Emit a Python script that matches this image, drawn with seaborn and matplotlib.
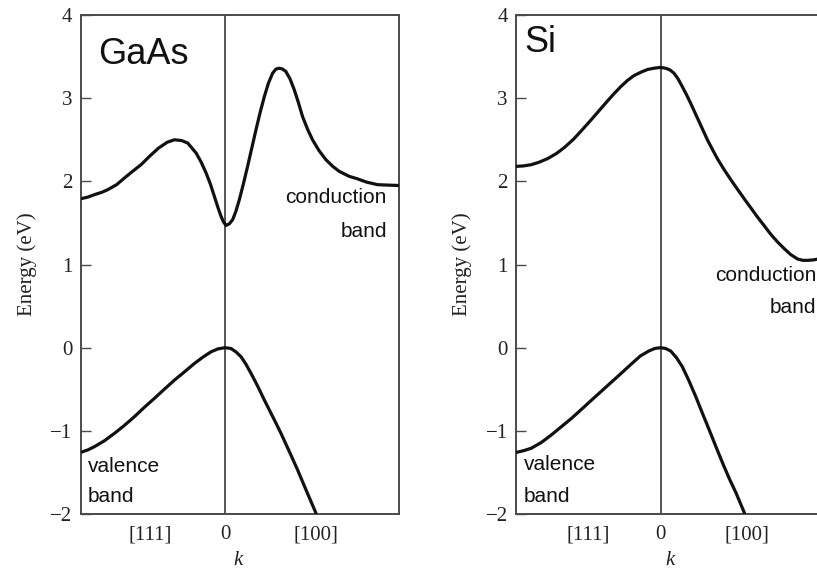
import matplotlib
matplotlib.use("Agg")
import matplotlib.pyplot as plt
import seaborn as sns
import pandas as pd

# ---------------- data ----------------
panels = ["GaAs", "Si"]
energy_ticks = [-2, -1, 0, 1, 2, 3, 4]
k_tick_labels = ["[111]", "0", "[100]"]
gaas_k_ticks = [-0.52, 0.0, 0.63]
si_k_ticks = [-0.50, 0.0, 0.60]

gaas_cond_k = [-1.0, -0.95, -0.903, -0.85, -0.811, -0.75, -0.696, -0.64, -0.581, -0.523,
               -0.46, -0.40, -0.350, -0.30, -0.258, -0.200, -0.165, -0.131, -0.10, -0.074,
               -0.05, -0.028, -0.01, 0.007, 0.03, 0.053, 0.075, 0.099, 0.127, 0.156,
               0.185, 0.214, 0.243, 0.272, 0.30, 0.329, 0.352, 0.375, 0.398, 0.421,
               0.45, 0.479, 0.507, 0.536, 0.57, 0.605, 0.65, 0.698, 0.745, 0.790,
               0.859, 0.916, 0.98, 1.055, 1.12, 1.2]
gaas_cond_E = [1.79, 1.81, 1.84, 1.87, 1.90, 1.96, 2.04, 2.12, 2.20, 2.30,
               2.40, 2.47, 2.50, 2.49, 2.46, 2.34, 2.23, 2.10, 1.96, 1.82,
               1.69, 1.58, 1.51, 1.47, 1.49, 1.54, 1.64, 1.78, 1.97, 2.18,
               2.40, 2.62, 2.83, 3.02, 3.18, 3.30, 3.35, 3.36, 3.35, 3.32,
               3.23, 3.10, 2.95, 2.78, 2.63, 2.50, 2.37, 2.26, 2.18, 2.12,
               2.06, 2.03, 1.99, 1.96, 1.955, 1.95]

gaas_val_k = [-1.0, -0.95, -0.903, -0.835, -0.765, -0.70, -0.627, -0.56, -0.489, -0.42,
              -0.350, -0.28, -0.212, -0.15, -0.097, -0.05, 0.0, 0.041, 0.075, 0.111,
              0.145, 0.180, 0.225, 0.272, 0.33, 0.387, 0.445, 0.502, 0.565, 0.629]
gaas_val_E = [-1.26, -1.23, -1.19, -1.12, -1.03, -0.94, -0.83, -0.72, -0.61, -0.50,
              -0.39, -0.29, -0.19, -0.11, -0.05, -0.015, 0.0, -0.01, -0.05, -0.11,
              -0.20, -0.31, -0.46, -0.63, -0.83, -1.03, -1.25, -1.47, -1.73, -1.99]

si_cond_k = [-1.0, -0.95, -0.895, -0.84, -0.779, -0.72, -0.663, -0.60, -0.547, -0.49,
             -0.430, -0.37, -0.324, -0.28, -0.231, -0.185, -0.139, -0.09, -0.046, 0.0,
             0.035, 0.065, 0.093, 0.122, 0.150, 0.18, 0.208, 0.237, 0.266, 0.295,
             0.324, 0.36, 0.394, 0.44, 0.486, 0.53, 0.579, 0.625, 0.671, 0.72,
             0.764, 0.81, 0.856, 0.90, 0.949, 0.985, 1.019, 1.055, 1.088]
si_cond_E = [2.18, 2.185, 2.20, 2.23, 2.275, 2.335, 2.41, 2.51, 2.61, 2.72,
             2.84, 2.96, 3.05, 3.13, 3.21, 3.27, 3.31, 3.345, 3.36, 3.37,
             3.36, 3.34, 3.30, 3.23, 3.14, 3.04, 2.94, 2.83, 2.72, 2.61,
             2.50, 2.38, 2.27, 2.14, 2.02, 1.91, 1.79, 1.68, 1.57, 1.46,
             1.36, 1.27, 1.19, 1.12, 1.065, 1.05, 1.05, 1.055, 1.065]

si_val_k = [-1.0, -0.95, -0.895, -0.825, -0.756, -0.686, -0.616, -0.546, -0.477, -0.407,
            -0.337, -0.267, -0.198, -0.14, -0.081, -0.04, 0.0, 0.035, 0.070, 0.11,
            0.151, 0.197, 0.244, 0.29, 0.337, 0.383, 0.430, 0.477, 0.523, 0.552, 0.581]
si_val_E = [-1.26, -1.24, -1.21, -1.14, -1.05, -0.95, -0.85, -0.74, -0.63, -0.52,
            -0.41, -0.30, -0.19, -0.10, -0.04, -0.01, 0.0, -0.01, -0.04, -0.12,
            -0.23, -0.40, -0.59, -0.79, -0.99, -1.19, -1.39, -1.58, -1.75, -1.87, -1.99]

# ---------------- styling ----------------
sns.set_theme(style="white")
plt.rcParams["font.family"] = ["Liberation Serif", "DejaVu Serif"]
plt.rcParams["axes.unicode_minus"] = True

fig = plt.figure(figsize=(8.17, 5.74), dpi=100)
W, H = 817.0, 574.0
ax1 = fig.add_axes([80.5 / W, 60 / H, 318 / W, 499 / H])
ax2 = fig.add_axes([516 / W, 60 / H, 318 / W, 499 / H])

spine_col = "#4a4a4a"
curve_col = "#111111"
text_col = "#222222"

configs = [
    (ax1, gaas_cond_k, gaas_cond_E, gaas_val_k, gaas_val_E, gaas_k_ticks),
    (ax2, si_cond_k, si_cond_E, si_val_k, si_val_E, si_k_ticks),
]

for ax, ck, cE, vk, vE, kt in configs:
    dfc = pd.DataFrame({"k": ck, "E": cE})
    dfv = pd.DataFrame({"k": vk, "E": vE})
    ax.axvline(0, color="#555555", lw=1.4, zorder=1)
    for df in (dfc, dfv):
        sns.lineplot(data=df, x="k", y="E", ax=ax, color=curve_col, lw=2.3,
                     sort=False, estimator=None, zorder=3,
                     solid_joinstyle="round", solid_capstyle="round")
    ax.set_xlim(-1.0, 1.2)
    ax.set_ylim(-2, 4)
    ax.set_yticks(energy_ticks)
    ax.set_yticklabels([str(v).replace("-", "\u2212") for v in energy_ticks])
    ax.set_xticks(kt)
    ax.set_xticklabels(k_tick_labels)
    ax.tick_params(axis="y", direction="in", length=7, width=1.0, color=spine_col,
                   labelsize=15, pad=6, left=True, labelcolor=text_col)
    ax.tick_params(axis="x", length=0, labelsize=15, pad=8, labelcolor=text_col)
    for s in ax.spines.values():
        s.set_color(spine_col)
        s.set_linewidth(1.4)
        s.set_visible(True)
    ax.set_ylabel("Energy (eV)", fontsize=15, color=text_col)
    ax.yaxis.set_label_coords(-0.138, 0.5)
    ax.set_xlabel("k", fontsize=15, style="italic", color=text_col)
    ax.grid(False)
    ax.set_facecolor("white")

ax1.xaxis.set_label_coords(0.495, -0.075)
ax2.xaxis.set_label_coords(0.484, -0.075)

sans = ["Liberation Sans", "DejaVu Sans"]
ax1.text(0.055, 0.902, "GaAs", transform=ax1.transAxes, fontsize=26,
         family=sans, va="baseline", ha="left", color="#111111")
ax2.text(0.025, 0.926, "Si", transform=ax2.transAxes, fontsize=26,
         family=sans, va="baseline", ha="left", color="#111111")

lbl = dict(fontsize=15, family=sans, va="baseline", color="#111111")
ax1.text(1.12, 1.74, "conduction", ha="right", **lbl)
ax1.text(1.12, 1.33, "band", ha="right", **lbl)
ax1.text(-0.952, -1.49, "valence", ha="left", **lbl)
ax1.text(-0.952, -1.86, "band", ha="left", **lbl)

ax2.text(1.076, 0.80, "conduction", ha="right", **lbl)
ax2.text(1.076, 0.417, "band", ha="right", **lbl)
ax2.text(-0.944, -1.47, "valence", ha="left", **lbl)
ax2.text(-0.944, -1.85, "band", ha="left", **lbl)

fig.savefig("out.png", dpi=100, facecolor="white")
